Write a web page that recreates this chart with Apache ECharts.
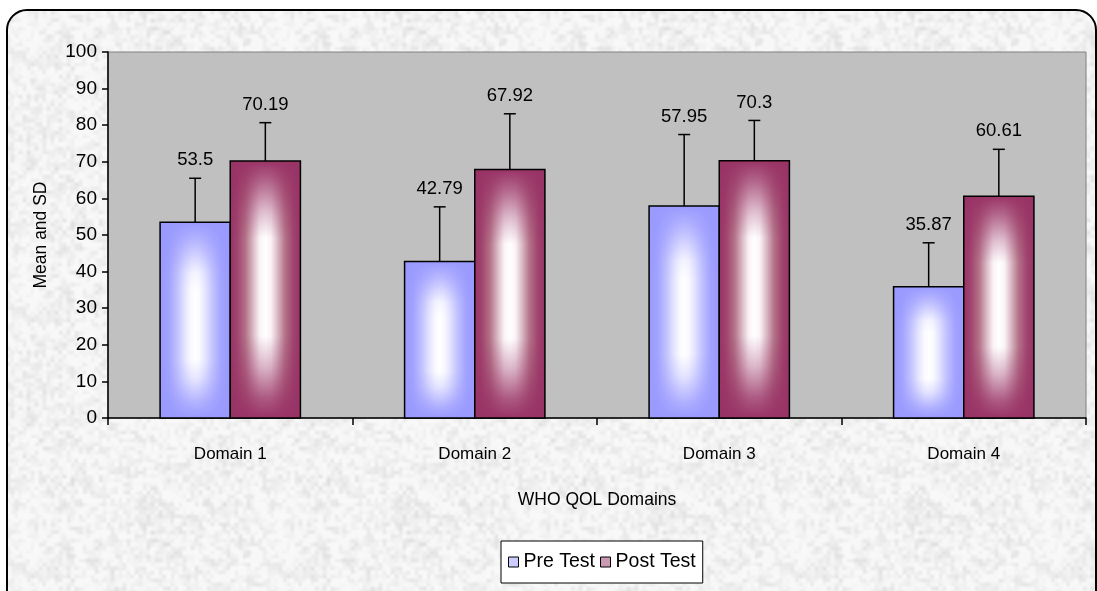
<!DOCTYPE html>
<html>
<head>
<meta charset="utf-8">
<script src="https://cdn.jsdelivr.net/npm/echarts@6/dist/echarts.min.js"></script>
<style>
  html, body { margin: 0; padding: 0; background: #ffffff; }
  #chart { width: 1097px; height: 591px; }
</style>
</head>
<body>
<div id="chart"></div>
<script>
// WHO QOL domain scores, pre vs post test (mean with SD error bars)
const categories = ['Domain 1', 'Domain 2', 'Domain 3', 'Domain 4'];
const preMean  = [53.5, 42.79, 57.95, 35.87];
const preSD    = [12.0, 14.9, 19.5, 12.0];
const postMean = [70.19, 67.92, 70.3, 60.61];
const postSD   = [10.5, 15.2, 11.0, 12.8];
const seriesNames = ['Pre Test', 'Post Test'];

const FONT = '"Liberation Sans", Arial, sans-serif';

// Soft grey marble texture for the chart frame (deterministic value noise)
function makeTexture() {
  const N = 256;
  const c = document.createElement('canvas');
  c.width = N; c.height = N;
  const ctx = c.getContext('2d');
  const img = ctx.createImageData(N, N);
  const hash = (x, y, s) => {
    const v = Math.sin(x * 127.1 + y * 311.7 + s * 74.7) * 43758.5453;
    return v - Math.floor(v);
  };
  const smooth = t => t * t * (3 - 2 * t);
  function noise(x, y, cell, seed) {
    const n = N / cell;
    const gx = x / cell, gy = y / cell;
    const i = Math.floor(gx), j = Math.floor(gy);
    const fx = smooth(gx - i), fy = smooth(gy - j);
    const i0 = i % n, j0 = j % n, i1 = (i + 1) % n, j1 = (j + 1) % n;
    const a = hash(i0, j0, seed), b = hash(i1, j0, seed);
    const cc = hash(i0, j1, seed), d = hash(i1, j1, seed);
    return (a * (1 - fx) + b * fx) * (1 - fy) + (cc * (1 - fx) + d * fx) * fy;
  }
  for (let y = 0; y < N; y++) {
    for (let x = 0; x < N; x++) {
      const v = 0.55 * noise(x, y, 4, 1) + 0.3 * noise(x, y, 8, 2) + 0.15 * noise(x, y, 32, 3);
      let g = 248 - Math.pow(Math.max(0, v - 0.3), 1.3) * 46;
      g = Math.max(214, Math.min(250, g));
      const k = (y * N + x) * 4;
      img.data[k] = g; img.data[k + 1] = g; img.data[k + 2] = g; img.data[k + 3] = 255;
    }
  }
  ctx.putImageData(img, 0, 0);
  return c;
}

const chart = echarts.init(document.getElementById('chart'), null, { renderer: 'canvas' });

const palette = {
  'Pre Test': {
    edge: [153, 153, 255],
    horiz: [[0, '#9999ff'], [0.12, '#a2a2ff'], [0.24, '#c0c0ff'], [0.36, '#e6e6ff'], [0.44, '#fafaff'], [0.5, '#ffffff'],
            [0.56, '#fafaff'], [0.64, '#e6e6ff'], [0.76, '#c0c0ff'], [0.88, '#a2a2ff'], [1, '#9999ff']],
    vert: [[0, 1], [0.1, 0.7], [0.26, 0.1], [0.35, 0], [0.7, 0], [0.8, 0.25], [0.92, 0.75], [1, 1]],
    legend: '#ccccff'
  },
  'Post Test': {
    edge: [153, 51, 102],
    horiz: [[0, '#993366'], [0.1, '#a0446f'], [0.22, '#b47388'], [0.34, '#dfc2cd'], [0.42, '#faf3f6'], [0.5, '#ffffff'],
            [0.58, '#faf3f6'], [0.66, '#dfc2cd'], [0.78, '#b47388'], [0.9, '#a0446f'], [1, '#993366']],
    vert: [[0, 1], [0.08, 0.75], [0.2, 0.3], [0.3, 0], [0.68, 0], [0.8, 0.35], [0.92, 0.8], [1, 1]],
    legend: '#cc99b2'
  }
};

function makeRender(name, side) {
  const p = palette[name];
  return function (params, api) {
    const idx = api.value(0), mean = api.value(1), sd = api.value(2);
    const base = api.coord([idx, 0]);
    const top = api.coord([idx, mean]);
    const errTop = api.coord([idx, mean + sd]);
    const band = api.size([1, 0])[0];
    const w = band * 0.287;
    const x0 = side < 0 ? base[0] - w : base[0];
    const h = base[1] - top[1];
    const cx = x0 + w / 2;
    const rgba = a => 'rgba(' + p.edge.join(',') + ',' + a + ')';
    return {
      type: 'group',
      children: [
        {
          type: 'rect',
          shape: { x: x0, y: top[1], width: w, height: h },
          style: {
            fill: new echarts.graphic.LinearGradient(0, 0, 1, 0,
              p.horiz.map(s => ({ offset: s[0], color: s[1] })))
          }
        },
        {
          type: 'rect',
          shape: { x: x0, y: top[1], width: w, height: h },
          style: {
            fill: new echarts.graphic.LinearGradient(0, 0, 0, 1,
              p.vert.map(s => ({ offset: s[0], color: rgba(s[1]) })))
          }
        },
        {
          type: 'rect',
          shape: { x: x0, y: top[1], width: w, height: h },
          style: { fill: 'none', stroke: '#000', lineWidth: 1.5 }
        },
        {
          type: 'line',
          shape: { x1: cx, y1: top[1], x2: cx, y2: errTop[1] },
          style: { stroke: '#000', lineWidth: 1.5 }
        },
        {
          type: 'line',
          shape: { x1: cx - 6, y1: errTop[1], x2: cx + 6, y2: errTop[1] },
          style: { stroke: '#000', lineWidth: 1.5 }
        },
        {
          type: 'text',
          style: {
            text: String(mean),
            x: cx, y: errTop[1] - 18,
            textAlign: 'center', textVerticalAlign: 'middle',
            font: '18.5px ' + FONT, fill: '#000'
          }
        }
      ]
    };
  };
}

const preData = categories.map((c, i) => [i, preMean[i], preSD[i]]);
const postData = categories.map((c, i) => [i, postMean[i], postSD[i]]);

const option = {
  animation: false,
  backgroundColor: 'transparent',
  textStyle: { fontFamily: FONT },
  graphic: [{
    type: 'rect',
    z: -10,
    silent: true,
    shape: { x: 7, y: 10, width: 1089, height: 610, r: 20 },
    style: { fill: { image: makeTexture(), repeat: 'repeat' }, stroke: '#000', lineWidth: 2 }
  }],
  grid: {
    left: 108, right: 11, top: 52, bottom: 173,
    show: true, backgroundColor: '#c0c0c0', borderColor: '#808080', borderWidth: 1
  },
  legend: {
    left: 501, top: 541,
    padding: [11, 7, 11, 7],
    itemGap: 5, itemWidth: 10, itemHeight: 10,
    backgroundColor: '#ffffff', borderColor: '#000', borderWidth: 1,
    textStyle: { fontSize: 19.5, color: '#000', fontFamily: FONT },
    data: seriesNames.map(n => ({
      name: n, icon: 'rect',
      itemStyle: { color: palette[n].legend, borderColor: '#000', borderWidth: 1 }
    }))
  },
  xAxis: {
    type: 'category',
    data: categories,
    name: 'WHO QOL Domains',
    nameLocation: 'middle',
    nameGap: 73,
    nameTextStyle: { fontSize: 17.5, color: '#000', fontFamily: FONT },
    axisLine: { lineStyle: { color: '#000', width: 1.5 } },
    axisTick: { show: true, alignWithLabel: false, length: 7, lineStyle: { color: '#000', width: 1.5 } },
    axisLabel: { fontSize: 17, color: '#000', margin: 28, fontFamily: FONT },
    splitLine: { show: false }
  },
  yAxis: {
    type: 'value',
    min: 0, max: 100, interval: 10,
    name: 'Mean and SD',
    nameLocation: 'middle',
    nameGap: 58,
    nameRotate: 90,
    nameTextStyle: { fontSize: 17.5, color: '#000', fontFamily: FONT },
    axisLine: { show: true, lineStyle: { color: '#000', width: 1.5 } },
    axisTick: { show: true, length: 6, lineStyle: { color: '#000', width: 1.5 } },
    axisLabel: { fontSize: 19, color: '#000', margin: 11, fontFamily: FONT },
    splitLine: { show: false }
  },
  series: [
    {
      name: 'Pre Test', type: 'custom',
      itemStyle: { color: palette['Pre Test'].legend },
      encode: { x: 0, y: 1 },
      renderItem: makeRender('Pre Test', -1),
      data: preData
    },
    {
      name: 'Post Test', type: 'custom',
      itemStyle: { color: palette['Post Test'].legend },
      encode: { x: 0, y: 1 },
      renderItem: makeRender('Post Test', 1),
      data: postData
    }
  ]
};

chart.setOption(option);
</script>
</body>
</html>
